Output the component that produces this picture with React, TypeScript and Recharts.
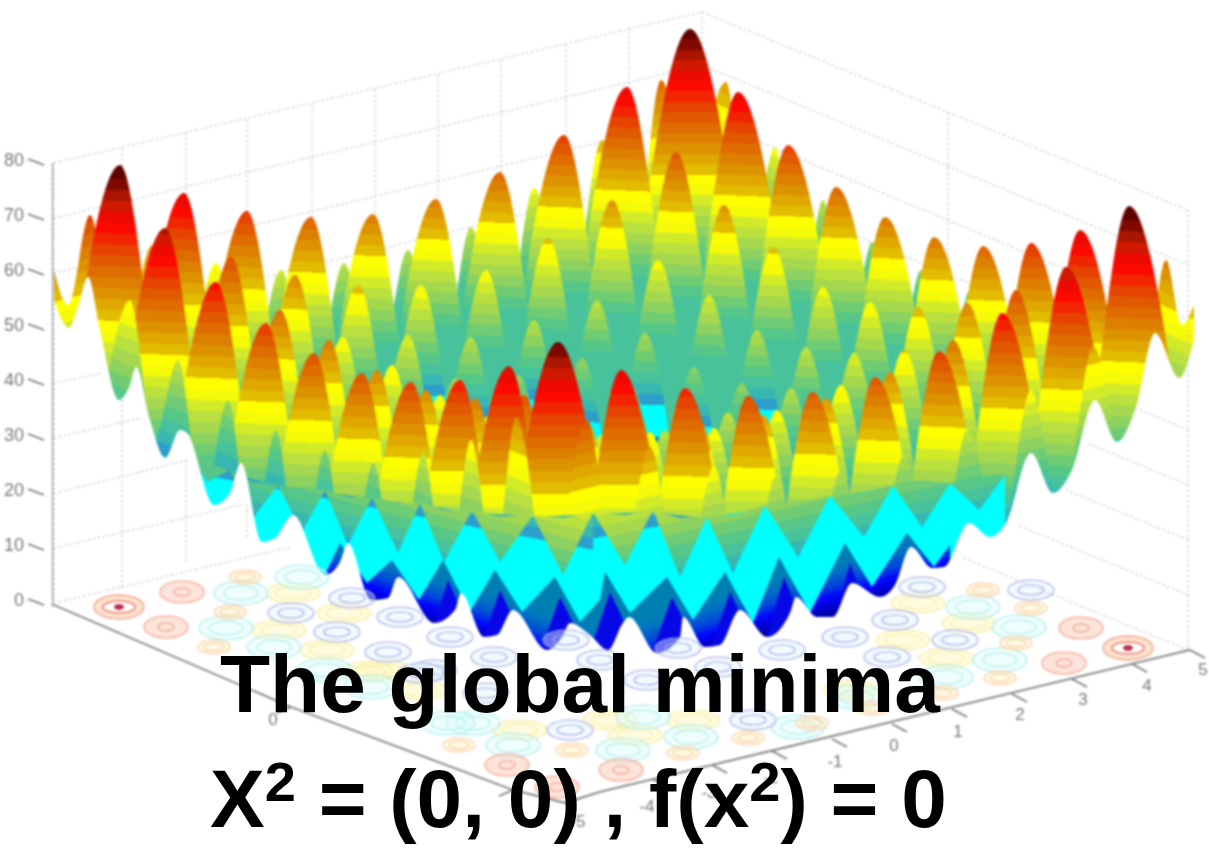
import { Area, ComposedChart, Line, Scatter, XAxis, YAxis } from "recharts";

// Everything as [screen x, screen y]; toHeight() puts y on the z axis.
const row00 = [[634,289],[690,29],[746,289]];
const row01 = [[571,347],[627,87],[682,350],[738,92],[794,352]];
const row02 = [[508,395],[564,135],[620,404],[676,152],[732,408],[788,145],[844,405]];
const row03 = [[444,432],[500,172],[556,446],[612,200],[668,462],[724,205],[780,456],[836,187],[892,447]];
const row04 = [[380,459],[436,199],[492,478],[548,238],[603,509],[658,260],[715,513],[773,247],[829,492],[885,217],[941,477]];
const row05 = [[317,474],[373,214],[429,502],[486,270],[541,545],[597,300],[653,558],[709,295],[766,551],[823,287],[878,522],[934,237],[990,497]];
const row06 = [[255,477],[311,217],[366,511],[421,285],[477,562],[534,320],[589,586],[645,333],[701,591],[757,330],[813,576],[870,302],[926,534],[983,246],[1039,506]];
const row07 = [[191,471],[247,211],[302,508],[358,285],[414,571],[471,337],[526,607],[582,358],[638,622],[694,367],[750,617],[806,347],[862,587],[918,307],[974,535],[1031,243],[1087,503]];
const row08 = [[128,453],[184,193],[239,494],[295,275],[351,565],[408,335],[463,615],[519,375],[575,640],[631,385],[686,644],[742,383],[798,628],[854,353],[910,588],[967,303],[1023,526],[1080,230],[1136,490]];
const row09 = [[64,425],[120,165],[175,471],[231,257],[287,557],[343,337],[399,617],[456,378],[512,651],[568,405],[624,663],[680,402],[735,655],[791,388],[847,629],[904,350],[960,580],[1016,290],[1072,508],[1129,206],[1185,466]];
const row10 = [[109,488],[165,228],[222,529],[280,310],[336,597],[392,365],[448,647],[504,410],[560,676],[616,422],[672,677],[728,412],[784,658],[841,385],[897,622],[953,340],[1009,563],[1066,267],[1122,527]];
const row11 = [[160,542],[216,282],[272,571],[329,340],[384,627],[440,395],[496,671],[552,428],[608,689],[665,430],[721,680],[777,410],[833,651],[890,372],[946,602],[1002,313],[1058,573]];
const row12 = [[210,583],[266,323],[321,606],[377,370],[433,652],[489,415],[545,685],[601,435],[657,691],[714,428],[770,673],[826,398],[882,634],[939,351],[995,611]];
const row13 = [[258,613],[314,353],[370,631],[426,390],[482,667],[538,425],[594,688],[650,432],[706,683],[763,415],[819,656],[875,377],[931,637]];
const row14 = [[306,633],[362,373],[418,645],[475,398],[531,670],[587,422],[643,681],[699,420],[755,666],[812,392],[868,652]];
const row15 = [[355,642],[411,382],[467,648],[524,395],[580,661],[636,408],[692,662],[748,396],[804,656]];
const row16 = [[404,640],[460,380],[516,642],[573,385],[629,646],[685,388],[741,648]];
const row17 = [[453,626],[509,366],[565,628],[621,370],[677,630]];
const row18 = [[502,602],[558,342],[614,602]];
const surfaceRows = [row00,row01,row02,row03,row04,row05,row06,row07,row08,row09,row10,row11,row12,row13,row14,row15,row16,row17,row18];
const rowFloorLeft = [445,463,481,498,516,534,552,570,587,605,640,665,690,710,730,750,765,780,790];
const rowFloorRight = [445,468,490,513,535,558,580,603,625,646,675,695,715,730,745,760,770,780,790];

const backLeftLobes = [[54,270],[68,305],[90,215],[118,360],[153,245],[184,370],[216,263],[248,390],[281,270],[312,395],[344,263],[376,390],[408,250],[440,380],[471,227],[502,360],[534,188],[568,320],[602,140],[632,280],[661,80],[690,250]];
const backRightLobes = [[690,250],[726,82],[750,250],[775,147],[800,320],[823,200],[848,350],[872,242],[896,380],[921,270],[945,400],[970,290],[995,420],[1019,300],[1043,420],[1067,296],[1092,410],[1116,283],[1141,400],[1166,260],[1182,325],[1194,305]];
const frontLeftLobes = [[100,430],[130,300],[154,440],[178,360],[203,510],[228,400],[252,550],[276,430],[300,580],[325,450],[349,590],[373,463],[398,595],[423,453],[447,590],[471,440],[494,570],[516,417],[540,570]];
const frontRightLobes = [[560,570],[587,420],[618,590],[650,447],[682,605],[714,466],[745,612],[777,474],[809,610],[841,470],[872,600],[904,455],[936,580],[968,428],[1000,550],[1031,390],[1062,520],[1093,347],[1120,480]];

// cyan seen under the hanging front edge
const cyanLeft = [[190,457],[230,472],[278,487],[325,492],[372,499],[420,505],[472,512],[533,517],[593,514]];
const cyanRight = [[593,514],[653,512],[707,519],[765,507],[830,497],[893,487],[950,485],[1005,477]];
// hanging front edge: [x, upper y, lower y]
const hangingLeft = [[190,455,455],[207,462,482],[230,470,470],[253,482,518],[278,485,485],[302,490,532],[325,490,490],[348,497,545],[372,497,497],[398,503,553],[420,503,503],[444,510,562],[472,510,510],[500,517,562],[533,515,515],[563,518,575],[593,512,512]];
const hangingRight = [[593,512,512],[625,515,565],[653,510,510],[680,518,577],[707,517,517],[733,515,573],[765,505,505],[798,502,557],[830,495,495],[864,492,537],[893,485,485],[922,480,527],[950,483,483],[979,478,510],[1005,475,475]];

const blueLeft = [[318,590],[340,543],[367,583],[392,560],[419,600],[443,560],[470,612],[495,570],[522,612],[555,577],[580,622],[600,600]];
const blueRight = [[600,600],[605,572],[630,613],[667,577],[693,620],[725,572],[753,623],[779,557],[810,613],[845,543],[872,587],[907,533],[934,567],[950,545]];
const blueShade = [[315,680],[345,560],[387,680],[367,680],[397,575],[439,680],[418,680],[448,580],[490,680],[470,680],[500,590],[542,680],[530,680],[560,597],[602,680],[580,680],[610,592],[652,680],[642,680],[672,597],[714,680],[700,680],[730,592],[772,680],[754,680],[784,577],[826,680],[820,680],[850,563],[892,680],[881,680],[911,553],[953,680]];

const lowerEdge = [[54,300],[69,328],[80,300],[88,277],[100,330],[119,400],[130,385],[136,367],[150,420],[165,458],[180,430],[187,433],[214,505],[230,493],[241,463],[262,542],[275,538],[293,515],[325,575],[340,562],[348,543],[371,600],[388,598],[398,577],[434,623],[455,610],[461,593],[484,637],[497,635],[513,610],[547,650],[562,637],[570,623],[590,635],[608,650],[623,623],[629,617],[657,653],[680,637],[683,617],[705,647],[720,645],[740,610],[767,637],[790,613],[796,597],[817,617],[833,617],[852,583],[880,597],[895,585],[911,547],[932,568],[944,567],[969,523],[990,537],[1006,523],[1031,453],[1053,493],[1072,470],[1095,400],[1117,442],[1136,407],[1155,333],[1179,378],[1194,340]];

const zTicks = [0,10,20,30,40,50,60,70,80];
const wallLeft = [603,548,493,438,383,328,273,218,163];
const wallApex = [436,383,330,277,224,171,118,65,12];
const wallRight = [650,595,540,485,430,375,320,265,210];
const wallColumnsX = [122,186,247,312,375,438,501,566,629];
const wallColumnsTop = [149,133,120,105,90,75,60,45,27];
const wallColumnsBottom = [590,563,540,520,505,490,475,460,445];

const lowWallLines = [
  [[54,383],[103,373]], [[54,438],[142,418]], [[54,493],[189,460]], [[54,548],[241,505]], [[54,603],[291,547]],
  [[1188,430],[1136,408]], [[1188,485],[1087,443]], [[1188,540],[1066,490]], [[1188,595],[1017,525]], [[1188,650],[961,557]],
  [[122,400],[122,590]], [[186,460],[186,563]], [[247,505],[247,540]], [[54,163],[54,603]], [[1188,210],[1188,650]],
];

const floorEdges = [[54,605],[291,707],[513,790],[565,803],[600,792],[1190,650]];
const axisLine = [[52,163],[52,605]];

const ringsRed = [[119,607],[1128,648]];
const ringsRedOrange = [[182,592],[166,627],[507,765],[1081,628],[1064,663],[621,770],[557,787]];
const ringsOrange = [[245,577],[230,612],[214,647],[459,745],[572,750],[1031,608],[983,590],[1016,643],[1000,678],[683,753],[748,738],[812,723],[872,708],[942,693]];
const ringsYellow = [[293,593],[279,630],[344,613],[327,650],[383,670],[367,672],[520,730],[918,603],[969,623],[903,640],[946,658],[420,690],[610,720],[850,690],[693,720],[635,735]];
const ringsCyan = [[241,593],[226,628],[302,577],[274,647],[325,670],[371,687],[513,745],[473,723],[448,723],[1019,627],[973,607],[1000,660],[691,737],[623,750],[798,727],[643,717],[946,677],[856,697]];
const ringsBlue = [[291,613],[352,598],[337,632],[400,617],[388,652],[450,637],[494,657],[434,670],[421,673],[486,693],[570,730],[566,640],[600,660],[955,640],[1031,590],[922,587],[895,620],[845,637],[782,650],[887,657],[678,648],[718,667],[647,680],[753,720]];

const leftFloorLabels = [[31,623,"5"],[273,720,"0"],[578,822,"-5"]];
const rightFloorLabels = [[647,807,"-4"],[709,793,"-3"],[771,778,"-2"],[835,762,"-1"],[894,746,"0"],[958,732,"1"],[1020,715,"2"],[1083,700,"3"],[1147,686,"4"],[1203,670,"5"]];
const leftFloorTicks = [[54,605],[291,707],[513,790]];
const rightFloorTicks = [[1190,650],[1132,664],[1072,679],[1012,694],[952,709],[892,724],[832,739],[772,751],[712,765],[652,779]];

// the figure's colormap as it survived the source image: [position, r, g, b]
const colormap = [
  [0,0,0,130],[0.1,0,0,255],[0.15,0,70,220],[0.22,0,120,190],[0.29,0,130,175],[0.3,0,255,255],[0.372,0,255,255],
  [0.38,40,150,210],[0.42,60,190,170],[0.47,90,200,130],[0.52,150,210,90],[0.58,200,230,50],[0.62,255,255,0],[0.64,255,255,0],
  [0.66,225,190,0],[0.72,220,140,0],[0.8,225,80,0],[0.87,255,0,0],[0.92,200,30,0],[0.96,130,10,0],[1,80,0,0],
];

const toHeight = (y: number) => (603 - y) / 5.5;
const points = (list: any[]) => list.map(([x, y, label]) => ({ x, h: toHeight(y), label }));
const spans = (list: number[][]) => list.map(([x, upper, lower]) => ({ x, span: [toHeight(lower), toHeight(upper)] }));

function mapColor(t: number) {
  let k = 0;
  while (k < colormap.length - 2 && t > colormap[k + 1][0]) k++;
  const a = colormap[k];
  const b = colormap[k + 1];
  const u = Math.max(0, Math.min(1, (t - a[0]) / (b[0] - a[0])));
  const c = (n: number) => Math.round(a[n] + (b[n] - a[n]) * u);
  return `rgb(${c(1)},${c(2)},${c(3)})`;
}

// stepped colormap, the source figure has visible bands. Far rows never reach the cyan part
function BandGradient({ id, x1, y1, x2, y2, top = 1, bottom = 0 }: any) {
  const steps = top === 1 ? 40 : 12;
  const stops = [];
  for (let k = 0; k < steps; k++) {
    const color = mapColor(Math.max(bottom, (top * (k + 0.5)) / steps));
    stops.push(<stop key={k + "a"} offset={k / steps} stopColor={color} />);
    stops.push(<stop key={k + "b"} offset={(k + 1) / steps} stopColor={color} />);
  }
  return (
    <linearGradient id={id} gradientUnits="userSpaceOnUse" x1={x1} y1={y1} x2={x2} y2={y2}>
      {stops}
    </linearGradient>
  );
}

// z = 0 runs through (xa, ya)-(xb, yb); the gradient climbs 80 z units above that line
function floorGradient(id: string, xa: number, ya: number, xb: number, yb: number, scale: number, top = 1, length = 0, bottom = 0) {
  const slope = xb === xa ? 0 : (yb - ya) / (xb - xa);
  const mx = (xa + xb) / 2;
  const my = (ya + yb) / 2;
  const h = length || 80 * scale;
  return <BandGradient key={id} id={id} x1={mx} y1={my} x2={mx + slope * h} y2={my - h} top={top} bottom={bottom} />;
}

function rings(stroke: string, fill: string, sizes: number[][]) {
  return (props: any) => (
    <g>
      {sizes.map(([rx, ry], k) => (
        <ellipse key={k} cx={props.cx} cy={props.cy} rx={rx} ry={ry} fill={k === sizes.length - 1 ? "none" : fill} fillOpacity={0.45} stroke={stroke} strokeWidth={1.1} />
      ))}
    </g>
  );
}

const redRing = (props: any) => (
  <g>
    <ellipse cx={props.cx} cy={props.cy} rx={25} ry={12} fill="#fde3d0" stroke="#f3a58c" strokeWidth={1.4} />
    <ellipse cx={props.cx} cy={props.cy} rx={16} ry={6} fill="#fff" stroke="#ef7f72" strokeWidth={1.6} />
    <ellipse cx={props.cx} cy={props.cy} rx={5} ry={3} fill="#c2304a" />
  </g>
);

const labelShape = (props: any) => (
  <text x={props.cx} y={props.cy} textAnchor="middle" dominantBaseline="central" fontFamily="Liberation Sans" fontSize={17} fill="#777">
    {props.payload.label}
  </text>
);

const tickShape = (dx: number, dy: number) => (props: any) => (
  <line x1={props.cx} y1={props.cy} x2={props.cx + dx} y2={props.cy + dy} stroke="#777" strokeWidth={1.5} />
);

function ZTick({ x, y, payload }: any) {
  return (
    <g>
      <line x1={x - 16} y1={y - 4} x2={x} y2={y + 2} stroke="#777" strokeWidth={1.5} />
      <text x={x - 20} y={y - 3} textAnchor="end" dominantBaseline="central" fontFamily="Liberation Sans" fontSize={18} fill="#777">
        {payload.value}
      </text>
    </g>
  );
}

function surfaceArea(list: any[], fill: string, type = "monotone", base = -20) {
  return (
    <Area key={fill} data={points(list)} dataKey="h" type={type as any} baseValue={base} fill={fill} fillOpacity={1} stroke="none" dot={false} activeDot={false} isAnimationActive={false} />
  );
}

function hangingArea(list: number[][], fill: string) {
  return (
    <Area key={fill} data={spans(list)} dataKey="span" type="linear" fill={fill} fillOpacity={1} stroke="none" dot={false} activeDot={false} isAnimationActive={false} />
  );
}

function wallLine(from: number[], to: number[], key: string, zIndex: number) {
  return (
    <Line key={key} data={points([from, to])} dataKey="h" stroke="#b4b9c3" strokeWidth={1.2} strokeDasharray="2 3" dot={false} activeDot={false} isAnimationActive={false} zIndex={zIndex} />
  );
}

function ringSeries(list: any[], shape: any, zKey: string) {
  return <Scatter key={zKey} data={points(list)} dataKey="h" shape={shape} isAnimationActive={false} zIndex={650} />;
}

const titleStyle: any = {
  position: "absolute",
  whiteSpace: "nowrap",
  fontFamily: "Liberation Sans",
  fontWeight: 700,
  fontSize: 82,
  lineHeight: "84px",
  color: "#000",
};

const supStyle: any = { fontSize: 56, lineHeight: 0, verticalAlign: "26px" };

export default function App() {
  return (
    <div style={{ position: "absolute", left: 0, top: 0, width: 1209, height: 848, overflow: "hidden", background: "#fff" }}>
      <div style={{ filter: "blur(1.2px)" }}>
        <ComposedChart width={1209} height={848} margin={{ top: 0, right: 0, bottom: 0, left: 0 }}>
          <defs>
            {surfaceRows.map((row, d) =>
              floorGradient(`row${d}`, row[1][0], rowFloorLeft[d], row[row.length - 2][0] + (row.length === 3 ? 1 : 0), rowFloorRight[d], 5.2 + (0.5 * d) / 18, 1, 0, d <= 5 ? 0.44 : 0)
            )}
            {floorGradient("lobeL", 69, 600, 690, 430, 5.4, 1, 0, 0.44)}
            {floorGradient("lobeR", 690, 430, 1166, 645, 5.4, 1, 0, 0.44)}
            {floorGradient("frontL", 130, 637, 516, 789, 5.6)}
            {floorGradient("frontR", 587, 797, 1093, 673, 5.6)}
            {floorGradient("cyanL", 207, 650, 563, 718, 5.6, 1, 0, 0.31)}
            {floorGradient("cyanR", 563, 718, 979, 640, 5.6, 1, 0, 0.31)}
            {floorGradient("hangL", 207, 692, 563, 790, 5.6)}
            {floorGradient("hangR", 563, 795, 979, 700, 5.6)}
            {floorGradient("blueL", 325, 595, 547, 670, 1, 0.29, 60)}
            {floorGradient("blueR", 657, 673, 940, 587, 1, 0.29, 60)}
          </defs>
          <XAxis dataKey="x" type="number" domain={[52, 1209]} hide allowDataOverflow />
          <YAxis dataKey="h" type="number" domain={[-44.55, 109.64]} width={52} ticks={zTicks} interval={0} axisLine={false} tickLine={false} tick={ZTick} allowDataOverflow />

          {zTicks.map((z, k) => wallLine([54, wallLeft[k]], [702, wallApex[k]], `wl${z}`, 50))}
          {zTicks.map((z, k) => wallLine([702, wallApex[k]], [1188, wallRight[k]], `wr${z}`, 50))}
          {wallColumnsX.map((x, k) => wallLine([x, wallColumnsTop[k]], [x, wallColumnsBottom[k]], `wc${x}`, 50))}
          {wallLine([702, 12], [702, 436], "wBack", 50)}
          {wallLine([948, 113], [948, 560], "wMid", 50)}

          {surfaceArea(backLeftLobes, "url(#lobeL)")}
          {surfaceArea(backRightLobes, "url(#lobeR)")}
          {surfaceRows.map((row, d) => surfaceArea(row, `url(#row${d})`))}
          {surfaceArea(frontLeftLobes, "url(#frontL)")}
          {surfaceArea(frontRightLobes, "url(#frontR)")}
          {surfaceArea(cyanLeft, "url(#cyanL)", "linear")}
          {surfaceArea(cyanRight, "url(#cyanR)", "linear")}
          {hangingArea(hangingLeft, "url(#hangL)")}
          {hangingArea(hangingRight, "url(#hangR)")}
          {surfaceArea(blueLeft, "url(#blueL)", "linear")}
          {surfaceArea(blueRight, "url(#blueR)", "linear")}
          {surfaceArea(blueShade, "#0808e6", "linear")}
          {surfaceArea(lowerEdge, "#fff", "monotone", -44.55)}

          {lowWallLines.map((seg, k) => wallLine(seg[0], seg[1], `low${k}`, 640))}
          <Line data={points(floorEdges)} dataKey="h" stroke="#7d7f78" strokeWidth={1.8} dot={false} activeDot={false} isAnimationActive={false} zIndex={640} />
          <Line data={points(axisLine)} dataKey="h" stroke="#777" strokeWidth={1.8} dot={false} activeDot={false} isAnimationActive={false} zIndex={640} />

          {ringSeries(ringsYellow, rings("#f7eb9a", "#fff6b8", [[27, 10], [18, 6]]), "ry")}
          {ringSeries(ringsCyan, rings("#a5ecec", "#dcfafa", [[27, 12], [17, 7]]), "rc")}
          {ringSeries(ringsBlue, rings("#a4a8e8", "#dff3fb", [[23, 10], [13, 5]]), "rb")}
          {ringSeries(ringsOrange, rings("#f8c79a", "#fff0c2", [[16, 7], [10, 4]]), "ro")}
          {ringSeries(ringsRedOrange, rings("#f19a86", "#fbc3ac", [[22, 11], [8, 4]]), "rr")}
          {ringSeries(ringsRed, redRing, "rd")}

          {ringSeries(leftFloorTicks, tickShape(-14, 6), "tl")}
          {ringSeries(rightFloorTicks, tickShape(15, 8), "tr")}
          {ringSeries(leftFloorLabels, labelShape, "ll")}
          {ringSeries(rightFloorLabels, labelShape, "lr")}
        </ComposedChart>
      </div>
      <div style={{ ...titleStyle, left: 220, top: 642 }}>The global minima</div>
      <div style={{ ...titleStyle, left: 210, top: 757 }}>
        X<sup style={supStyle}>2</sup> = (0, 0) , f(x<sup style={supStyle}>2</sup>) = 0
      </div>
    </div>
  );
}
